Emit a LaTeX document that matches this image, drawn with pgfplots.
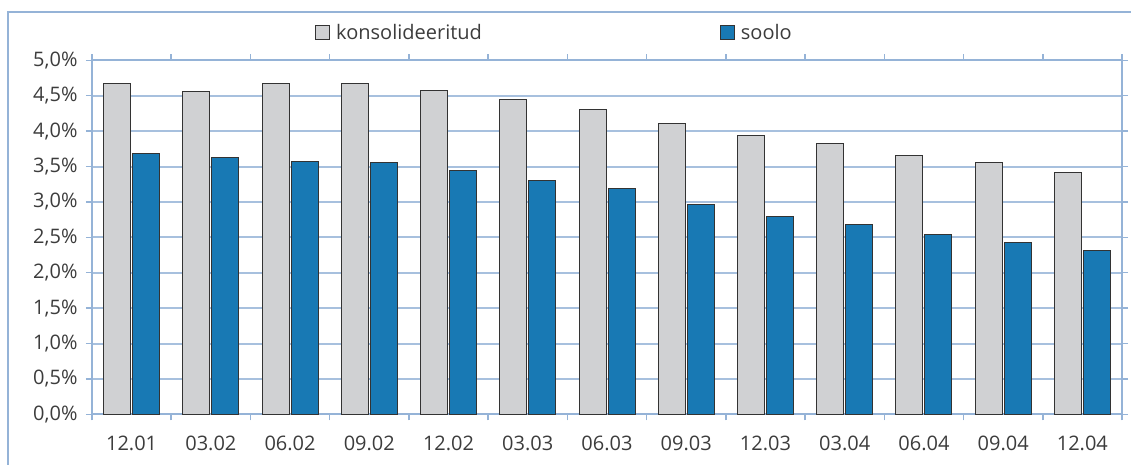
\documentclass[border=0pt]{standalone}
\usepackage{pgfplots}
\pgfplotsset{compat=1.18}
\usepackage{fontspec}
\setmainfont{Open Sans}
\definecolor{frameblue}{HTML}{95B3D7}
\definecolor{gridblue}{HTML}{A7C0DE}
\definecolor{bargray}{HTML}{D0D1D3}
\definecolor{barblue}{HTML}{1879B4}
\definecolor{txt}{HTML}{3C3C3C}
\begin{document}
\begin{tikzpicture}[x=1pt,y=1pt]
\clip (0,0) rectangle (1131,464);
\draw[frameblue, line width=2pt] (8,452) rectangle (1145,-20);
\begin{axis}[
  at={(92pt,49.7pt)}, anchor=south west,
  scale only axis, width=1030pt, height=354pt,
  xmin=-0.5, xmax=12.5, ymin=0, ymax=5,
  axis line style={frameblue, line width=2pt},
  ybar, bar width=27pt, bar shift auto,
  xtick={0,...,12},
  xticklabels={12.01,03.02,06.02,09.02,12.02,03.03,06.03,09.03,12.03,03.04,06.04,09.04,12.04},
  major x tick style={draw=none},
  minor xtick={-0.5,0.5,...,12.5},
  minor x tick style={frameblue, line width=1.5pt},
  minor tick length=6pt,
  tick align=outside,
  ytick={0,0.5,...,5},
  yticklabels={{0,0\%},{0,5\%},{1,0\%},{1,5\%},{2,0\%},{2,5\%},{3,0\%},{3,5\%},{4,0\%},{4,5\%},{5,0\%}},
  major y tick style={frameblue, line width=1.5pt},
  major tick length=6pt,
  ymajorgrids, grid style={gridblue, line width=2pt},
  tick label style={font=\fontsize{20}{23}\selectfont, text=txt},
  xticklabel style={yshift=-12pt},
  yticklabel style={xshift=-5pt},
  legend style={draw=none, fill=none, at={(0.449,1.077)}, anchor=center,
    font=\fontsize{20}{23}\selectfont, text=txt, legend columns=2,
    /tikz/every odd column/.append style={column sep=4pt},
    /tikz/every even column/.append style={column sep=236pt}},
  legend image code/.code={\draw[#1, draw=black!80, line width=1pt] (0pt,-6.5pt) rectangle (14pt,7.5pt);},
]
\addplot[fill=bargray, draw=black!80, line width=1pt] coordinates {
(0,4.67) (1,4.56) (2,4.67) (3,4.67) (4,4.58) (5,4.44) (6,4.31) (7,4.11) (8,3.94) (9,3.83) (10,3.66) (11,3.55) (12,3.41)};
\addplot[fill=barblue, draw=black!80, line width=1pt] coordinates {
(0,3.69) (1,3.63) (2,3.57) (3,3.55) (4,3.44) (5,3.30) (6,3.19) (7,2.96) (8,2.79) (9,2.68) (10,2.54) (11,2.42) (12,2.31)};
\legend{konsolideeritud, soolo}
\end{axis}
\end{tikzpicture}
\end{document}
